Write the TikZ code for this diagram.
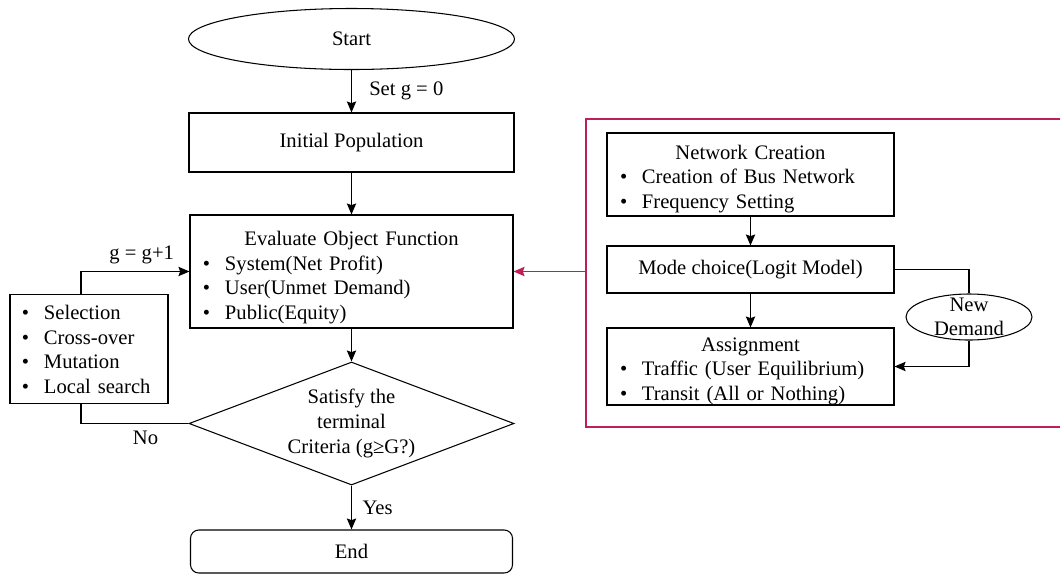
\documentclass[tikz,border=0pt]{standalone}
\usepackage{fontspec}
\setmainfont{Liberation Serif}
\usetikzlibrary{shapes.geometric,arrows.meta}
\definecolor{frame}{RGB}{190,30,90}
\setlength{\parindent}{0pt}
\newcommand{\bul}[1]{\par\makebox[0.66cm][l]{\textbullet}#1}
\newcommand{\ttl}[2]{{\centering\rule{0pt}{#1}#2\par}}

\begin{document}
\begin{tikzpicture}[x=0.03cm,y=-0.03cm,
    every node/.style={font=\fontsize{17.6}{21}\selectfont},
    box/.style={draw,rectangle,line width=0.9pt,inner sep=0pt},
    arr/.style={-{Stealth[length=0.33cm,width=0.28cm,inset=0.05cm]},line width=0.9pt}]
    \useasboundingbox (0,0) rectangle (1060,575);

    % Main flow of the algorithm
    \node[ellipse,draw,line width=0.9pt,minimum width=9.78cm,minimum height=1.83cm] (start) at (351.5,39) {Start};
    \node[box,minimum width=9.75cm,minimum height=1.77cm] (init) at (351.5,142.5) {Initial Population};
    \node[box,text width=8.91cm,inner xsep=0.39cm,minimum height=3.39cm] (eval) at (351.5,271.5)
        {\ttl{0.8cm}{Evaluate Object Function}\bul{System(Net Profit)}\bul{User(Unmet Demand)}\bul{Public(Equity)}};
    \node[diamond,draw,line width=0.9pt,aspect=2.64,inner sep=0pt,minimum width=9.75cm,minimum height=3.69cm,align=center] (crit) at (351.5,423.5)
        {Satisfy the\\terminal\\Criteria (g≥G?)};
    \node[box,rounded corners=0.25cm,minimum width=9.66cm,minimum height=1.29cm] (end) at (351.5,551.5) {End};

    % Genetic operators
    \node[box,text width=4.02cm,inner xsep=0.36cm,minimum height=3.18cm] (ops) at (89,349)
        {\bul{Selection}\bul{Cross-over}\bul{Mutation}\bul{Local search}\rule[-0.3cm]{0pt}{0pt}};

    % Sub-model frame
    \draw[frame,line width=1.5pt] (1070,119) -- (586,119) -- (586,427) -- (1070,427);
    \coordinate (sub) at (586,271.5);
    \node[box,text width=7.83cm,inner xsep=0.39cm,minimum height=2.49cm] (net) at (750.5,174.5)
        {\ttl{0.68cm}{Network Creation}\bul{Creation of Bus Network}\bul{Frequency Setting}};
    \node[box,minimum width=8.61cm,minimum height=1.41cm] (mode) at (750.5,269.5) {Mode choice(Logit Model)};
    \node[box,text width=7.83cm,inner xsep=0.39cm,minimum height=2.31cm] (assign) at (750.5,366.5)
        {\ttl{0.68cm}{Assignment}\bul{Traffic (User Equilibrium)}\bul{Transit (All or Nothing)}};
    \node[ellipse,draw,line width=0.9pt,fill=white,minimum width=3.78cm,minimum height=1.38cm] (nd) at (969,317) {};
    \node[align=center] (ndtext) at (nd) {New\\Demand};

    % Connectors
    \draw[arr] (start) -- node[right,xshift=0.4cm] {Set g = 0} (init);
    \draw[arr] (init) -- (eval);
    \draw[arr] (eval) -- (crit);
    \draw[arr] (crit) -- node[right,xshift=0.2cm] {Yes} (end);
    \draw[line width=0.9pt] (crit.west) -| node[pos=0.2,below,yshift=-0.1cm] {No} ([xshift=-0.24cm]ops.south);
    \draw[arr] ([xshift=-0.24cm]ops.north) |- node[pos=0.78,above,yshift=0.08cm] {g = g+1} (eval.west);
    \draw[arr,frame,line width=1.3pt] (sub) -- (eval.east);
    \draw[arr] (net) -- (mode);
    \draw[arr] (mode) -- (assign);
    \draw[line width=0.9pt] (mode.east) -| (nd.north);
    \draw[arr] (nd.south) |- (assign.east);
\end{tikzpicture}
\end{document}
